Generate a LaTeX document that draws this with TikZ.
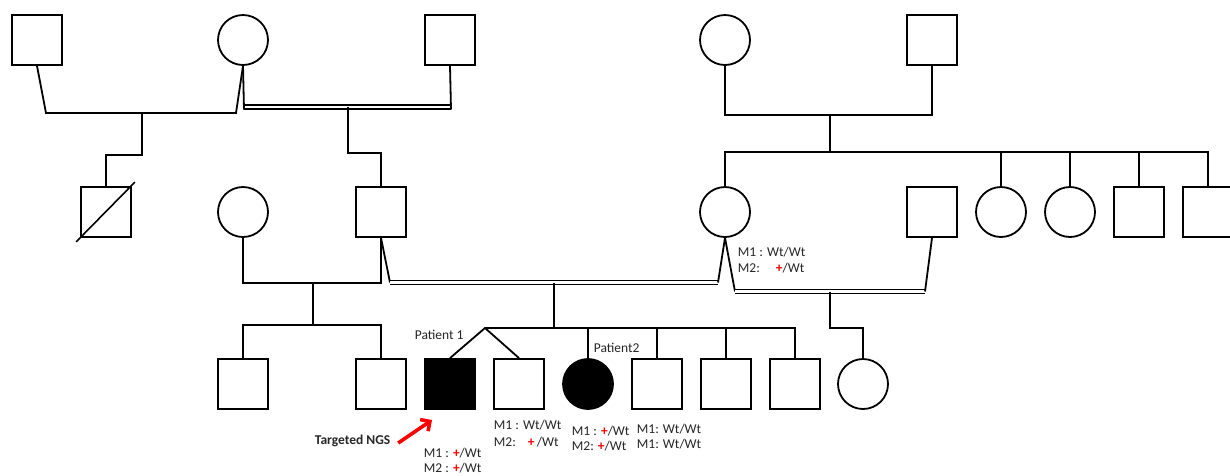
\documentclass[tikz,border=0pt]{standalone}
\usepackage{fontspec}
\setmainfont{Carlito}
\usepackage{xcolor}
\usetikzlibrary{arrows.meta}

\begin{document}
\begin{tikzpicture}[x=1pt,y=-1pt,line width=1.8pt,
        male/.style={draw,rectangle,minimum size=50pt,inner sep=0pt},
        female/.style={draw,circle,minimum size=50pt,inner sep=0pt},
        dbl/.style={double,double distance=2.4pt,line width=1.4pt},
        lbl/.style={anchor=base west,inner sep=0pt,text=black!85,font=\fontsize{13.5}{15}\selectfont}]

    \newcommand{\redplus}{\textcolor{red}{\textbf{+}}}

    \path[use as bounding box,fill=white] (0,0) rectangle (1230,475);
    \clip (0,0) rectangle (1230,475);

    \node[male] (gfA) at (37,40) {};
    \node[female] (gmB) at (243,40) {};
    \node[male] (gfC) at (450,40) {};
    \node[female] (gmD) at (725,40) {};
    \node[male] (gfE) at (932,40) {};

    \node[male] (uS) at (106,212) {};
    \node[female] (wF) at (243,212) {};
    \node[male] (fF) at (381,212) {};
    \node[female] (mG) at (725,212) {};
    \node[male] (hH) at (932,212) {};
    \node[female] (aunt1) at (1001,212) {};
    \node[female] (aunt2) at (1070,212) {};
    \node[male] (uncle1) at (1139,212) {};
    \node[male] (uncle2) at (1208,212) {};

    \node[male] (c1) at (243,384) {};
    \node[male] (c2) at (381,384) {};
    \node[male,fill=black] (p1) at (450,384) {};
    \node[male] (tw) at (519,384) {};
    \node[female,fill=black] (p2) at (588,384) {};
    \node[male] (s1) at (657,384) {};
    \node[male] (s2) at (726,384) {};
    \node[male] (s3) at (795,384) {};
    \node[female] (hc) at (863,384) {};

    \draw[line width=1.6pt] ([xshift=-4pt,yshift=-4pt]uS.south west) -- ([xshift=3pt,yshift=4pt]uS.north east);

    % generation I
    \coordinate (mAl) at (46,113);
    \coordinate (mAr) at (236,113);
    \coordinate (dA) at (142,113);
    \draw (gfA.south) -- (mAl) -- (mAr) -- (gmB.south);
    \draw (dA) -- ++(0,42) -| (uS);

    \coordinate (cBl) at (244,107);
    \coordinate (cCr) at (451,107);
    \coordinate (dB) at (348,107);
    \draw[dbl] (cBl) -- (cCr);
    \draw (gmB.south) -- ([yshift=-2.5pt]cBl);
    \draw (gfC.south) -- ([yshift=-2.5pt]cCr);
    \draw (dB) -- ++(0,46) -| (fF);

    \coordinate (mDl) at (725,115);
    \coordinate (mEr) at (932,115);
    \coordinate (dD) at (830,115);
    \coordinate (sibD) at (830,152);
    \draw (gmD.south) -- (mDl) -- (mEr) -- (gfE.south);
    \draw (dD) -- (sibD);
    \draw (mG.north) |- (sibD) -| (uncle2.north);
    \foreach \n in {aunt1,aunt2,uncle1}
    \draw (\n.north) -- (\n.north |- sibD);

    % generation II
    \coordinate (mFl) at (243,283);
    \coordinate (mFr) at (381,283);
    \coordinate (dF) at (313,283);
    \draw (wF.south) -- (mFl) -- (mFr) -- (fF.south);
    \draw (dF) -- ++(0,42) coordinate (sibF);
    \draw (c1.north) |- (sibF) -| (c2.north);

    \coordinate (cFl) at (390,282.5);
    \coordinate (cGl) at (718,282.5);
    \coordinate (dG) at (554,282.5);
    \draw (fF.south) -- (cFl);
    \draw[dbl] (cFl) -- (cGl);
    \draw (cGl) -- (mG.south);
    \draw (dG) -- ++(0,45.5) coordinate (sibG);
    \coordinate (twin) at (485,328);
    \draw (twin) -- (s3.north |- sibG) -- (s3.north);
    \draw (p1.north) -- (twin) -- (tw.north);
    \foreach \n in {p2,s1,s2}
    \draw (\n.north) -- (\n.north |- sibG);

    \coordinate (cGr) at (735,291.5);
    \coordinate (cHr) at (925,291.5);
    \coordinate (dH) at (830,291.5);
    \draw (mG.south) -- (cGr);
    \draw[dbl] (cGr) -- (cHr);
    \draw (cHr) -- (hH.south);
    \draw (dH) -- ++(0,36.5) -| (hc);

    % labels
    \node[lbl] (pat1) at (414,339) {Patient 1};
    \node[lbl] (pat2) at (593,352) {Patient2};
    \node[lbl] (gG1) at (737,256) {M1 : Wt/Wt};
    \node[lbl] (gG2) at (737,272) {M2:\hspace{16pt}\redplus/Wt};
    \node[lbl] (gT1) at (493,429) {M1 : Wt/Wt};
    \node[lbl] (gT2) at (493,446) {M2:\hspace{12pt}\redplus\,/Wt};
    \node[lbl] (gP2a) at (571,435) {M1 : \redplus/Wt};
    \node[lbl] (gP2b) at (571,450) {M2: \redplus/Wt};
    \node[lbl] (gS1a) at (636,433) {M1: Wt/Wt};
    \node[lbl] (gS1b) at (636,448) {M1: Wt/Wt};
    \node[lbl] (gP1a) at (423,457) {M1 : \redplus/Wt};
    \node[lbl] (gP1b) at (423,472) {M2 : \redplus/Wt};
    \node[lbl,font=\fontsize{13.5}{15}\selectfont\bfseries] (ngs) at (314,444) {Targeted NGS};

    \coordinate (ngstip) at (432,420);
    \draw[red,line width=3.6pt,-{Straight Barb[length=7pt,width=14pt]}] ([xshift=7pt,yshift=1pt]ngs.base east) -- (ngstip);

\end{tikzpicture}
\end{document}
